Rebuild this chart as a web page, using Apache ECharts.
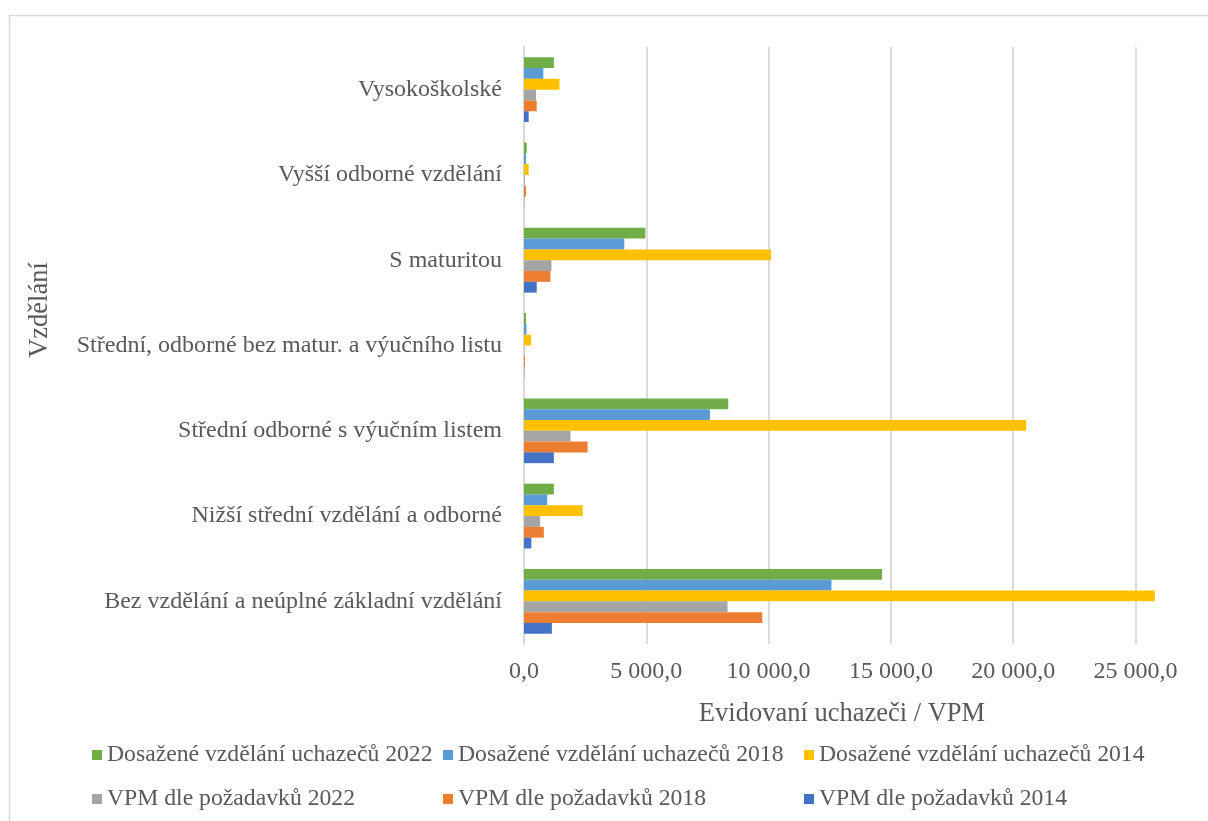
<!DOCTYPE html>
<html>
<head>
<meta charset="utf-8">
<script src="https://cdn.jsdelivr.net/npm/echarts@6/dist/echarts.min.js"></script>
<style>
html,body{margin:0;padding:0;background:#fff;}
#c{width:1208px;height:821px;}
</style>
</head>
<body>
<div id="c"></div>
<script>
// Categories, bottom to top
const categories = [
  'Bez vzdělání a neúplné základní vzdělání',
  'Nižší střední vzdělání a odborné',
  'Střední odborné s výučním listem',
  'Střední, odborné bez matur. a výučního listu',
  'S maturitou',
  'Vyšší odborné vzdělání',
  'Vysokoškolské'
];
const dosazene2022 = [14640, 1220, 8350, 80, 4960, 110, 1220];
const dosazene2018 = [12570, 950, 7600, 100, 4100, 80, 790];
const dosazene2014 = [25790, 2400, 20530, 290, 10100, 190, 1450];
const vpm2022 = [8320, 660, 1900, 10, 1120, 30, 490];
const vpm2018 = [9740, 810, 2600, 40, 1080, 80, 520];
const vpm2014 = [1140, 300, 1220, 10, 520, 10, 190];
const xTicks = [0, 5000, 10000, 15000, 20000, 25000];

const names = {
  d22: 'Dosažené vzdělání uchazečů 2022',
  d18: 'Dosažené vzdělání uchazečů 2018',
  d14: 'Dosažené vzdělání uchazečů 2014',
  v22: 'VPM dle požadavků 2022',
  v18: 'VPM dle požadavků 2018',
  v14: 'VPM dle požadavků 2014'
};
const colors = {
  d22: '#70AD47', d18: '#5B9BD5', d14: '#FFC000',
  v22: '#A5A5A5', v18: '#ED7D31', v14: '#4472C4'
};
const FONT = '"Liberation Serif", "Times New Roman", serif';
const TXT = '#595959';

function fmt(v) {
  const s = Math.round(v).toString().replace(/\B(?=(\d{3})+(?!\d))/g, ' ');
  return s + ',0';
}

function bar(key, data) {
  return {
    name: names[key], type: 'bar', data: data,
    barWidth: 10.8, barGap: '0%',
    itemStyle: { color: colors[key] }
  };
}

const chart = echarts.init(document.getElementById('c'));
const legendCommon = {
  orient: 'vertical', top: 738, itemWidth: 10, itemHeight: 10, itemGap: 20,
  icon: 'rect',
  textStyle: { fontFamily: FONT, fontSize: 23.7, color: TXT, lineHeight: 24 }
};
chart.setOption({
  backgroundColor: '#fff',
  animation: false,
  graphic: [{
    type: 'rect', left: 7, top: 13,
    shape: { width: 1300, height: 900 },
    style: { fill: 'none', stroke: '#d9d9d9', lineWidth: 1.5 }
  }, {
    type: 'text', x: 40, y: 310, rotation: Math.PI / 2,
    style: { text: 'Vzdělání', fontFamily: FONT, fontSize: 26.5, fill: TXT,
      align: 'center', verticalAlign: 'middle' }
  }],
  legend: [
    Object.assign({ left: 87, data: [names.d22, names.v22] }, legendCommon),
    Object.assign({ left: 438, data: [names.d18, names.v18] }, legendCommon),
    Object.assign({ left: 799, data: [names.d14, names.v14] }, legendCommon)
  ],
  grid: { left: 524, right: 48, top: 47, bottom: 177, containLabel: false },
  xAxis: {
    type: 'value', min: xTicks[0], max: 26000, interval: xTicks[1] - xTicks[0],
    name: 'Evidovaní uchazeči / VPM', nameLocation: 'middle', nameGap: 57,
    nameTextStyle: { fontFamily: FONT, fontSize: 26.5, color: TXT },
    axisLine: { show: false }, axisTick: { show: false },
    axisLabel: { fontFamily: FONT, fontSize: 24, color: TXT, margin: 16,
      showMaxLabel: false,
      formatter: v => (xTicks.indexOf(v) >= 0 ? fmt(v) : '') },
    splitLine: { show: true, showMaxLine: false, lineStyle: { color: '#d9d9d9', width: 1.8 } }
  },
  yAxis: {
    type: 'category', data: categories,
    axisLine: { show: true, lineStyle: { color: '#d9d9d9', width: 1.8 } },
    axisTick: { show: false },
    axisLabel: { fontFamily: FONT, fontSize: 24, color: TXT, margin: 22 }
  },
  series: [
    bar('d22', dosazene2022),
    bar('d18', dosazene2018),
    bar('d14', dosazene2014),
    bar('v22', vpm2022),
    bar('v18', vpm2018),
    bar('v14', vpm2014)
  ]
});
</script>
</body>
</html>
